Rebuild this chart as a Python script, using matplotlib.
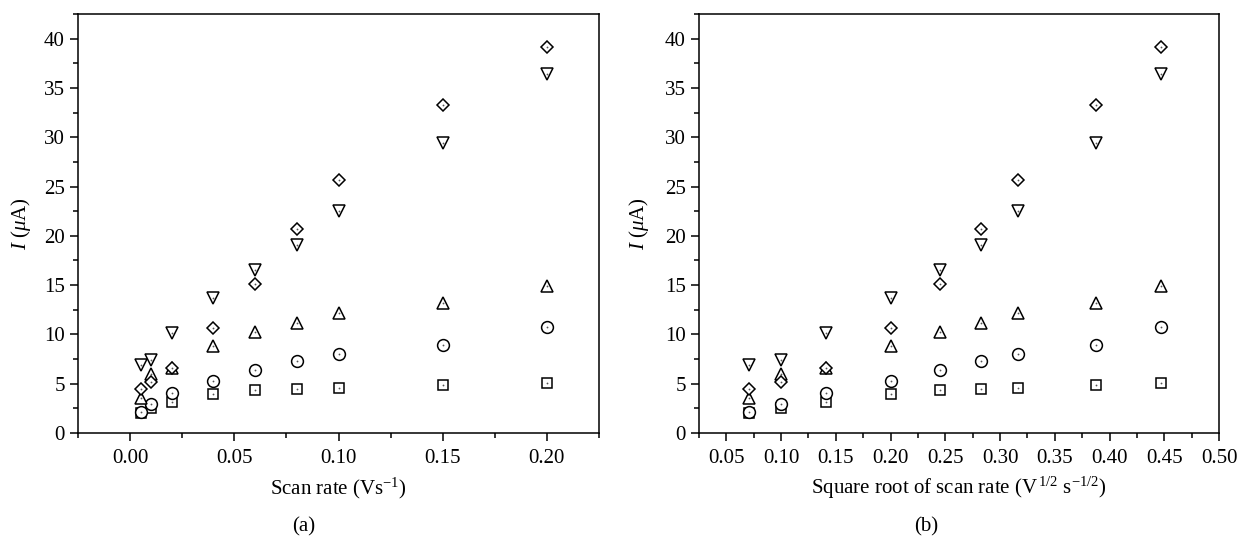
import numpy as np
import matplotlib
matplotlib.use("Agg")
import matplotlib.pyplot as plt
from matplotlib.ticker import MultipleLocator, FormatStrFormatter

plt.rcParams["font.family"] = ["Liberation Serif", "DejaVu Serif"]
plt.rcParams["mathtext.fontset"] = "custom"
plt.rcParams["mathtext.rm"] = "Liberation Serif"
plt.rcParams["mathtext.it"] = "Liberation Serif:italic"

# Scan rates (V/s) and peak currents (uA) for five series
scan_rate = [0.005, 0.01, 0.02, 0.04, 0.06, 0.08, 0.10, 0.15, 0.20]
current_square = [2.0, 2.5, 3.1, 4.0, 4.4, 4.45, 4.6, 4.9, 5.1]
current_circle = [2.1, 2.9, 4.1, 5.3, 6.4, 7.3, 8.0, 8.95, 10.75]
current_up = [3.6, 5.95, 6.6, 8.8, 10.25, 11.2, 12.2, 13.2, 14.9]
current_diamond = [4.5, 5.15, 6.55, 10.65, 15.15, 20.7, 25.65, 33.3, 39.15]
current_down = [6.9, 7.4, 10.15, 13.65, 16.5, 19.05, 22.5, 29.4, 36.4]

series = [
    (current_square, "s", 7.2),
    (current_circle, "o", 8.5),
    (current_up, "^", 8.5),
    (current_diamond, "D", 6.0),
    (current_down, "v", 8.5),
]

FS = 15
LW = 1.1

W, H = 1237, 537
fig = plt.figure(figsize=(W / 100, H / 100), dpi=100)

def axes_box(x0, x1, y0=14, y1=433):
    return [x0 / W, 1 - y1 / H, (x1 - x0) / W, (y1 - y0) / H]

ax_a = fig.add_axes(axes_box(78, 599))
ax_b = fig.add_axes(axes_box(699, 1219))

sqrt_rate = np.sqrt(np.array(scan_rate))

def draw(ax, x):
    for y, mk, ms in series:
        ax.plot(x, y, linestyle="none", marker=mk, markersize=ms,
                markerfacecolor="white", markeredgecolor="black",
                markeredgewidth=LW, clip_on=False)
        ax.plot(x, y, linestyle="none", marker="o", markersize=1.3,
                markerfacecolor="#555555", markeredgewidth=0, clip_on=False)
    ax.set_ylim(0, 42.5)
    ax.yaxis.set_major_locator(MultipleLocator(5))
    ax.yaxis.set_minor_locator(MultipleLocator(2.5))
    ax.xaxis.set_major_formatter(FormatStrFormatter("%.2f"))
    for s in ax.spines.values():
        s.set_linewidth(LW)
    ax.tick_params(which="both", direction="out", top=False, right=False,
                   width=LW, labelsize=FS)
    ax.tick_params(axis="x", pad=6)
    ax.tick_params(axis="y", pad=4)
    ax.tick_params(which="major", length=5.5)
    ax.tick_params(which="minor", length=3.5)
    ax.set_ylabel(r"$I$ ($\mu$A)", fontsize=FS, va="center")

draw(ax_a, scan_rate)
ax_a.set_xlim(-0.025, 0.225)
ax_a.xaxis.set_major_locator(MultipleLocator(0.05))
ax_a.xaxis.set_minor_locator(MultipleLocator(0.025))
ax_a.set_xlabel(r"Scan rate (Vs$^{-1}$)", fontsize=FS, va="center")
ax_a.xaxis.set_label_coords(0.5, (433 - 488) / 419)
ax_a.yaxis.set_label_coords((21 - 78) / 521, 0.5)

draw(ax_b, sqrt_rate)
ax_b.set_xlim(0.025, 0.50)
ax_b.xaxis.set_major_locator(MultipleLocator(0.05))
ax_b.xaxis.set_minor_locator(MultipleLocator(0.025))
ax_b.set_xlabel(r"Square root of scan rate (V$^{\,1/2}$ s$^{-1/2}$)",
                fontsize=FS, va="center")
ax_b.xaxis.set_label_coords(0.5, (433 - 488) / 419)
ax_b.yaxis.set_label_coords((639 - 699) / 520, 0.5)

fig.text(304 / W, 1 - 527 / H, "(a)", ha="center", va="center", fontsize=FS)
fig.text(926 / W, 1 - 527 / H, "(b)", ha="center", va="center", fontsize=FS)

fig.savefig("out.png", dpi=100)
